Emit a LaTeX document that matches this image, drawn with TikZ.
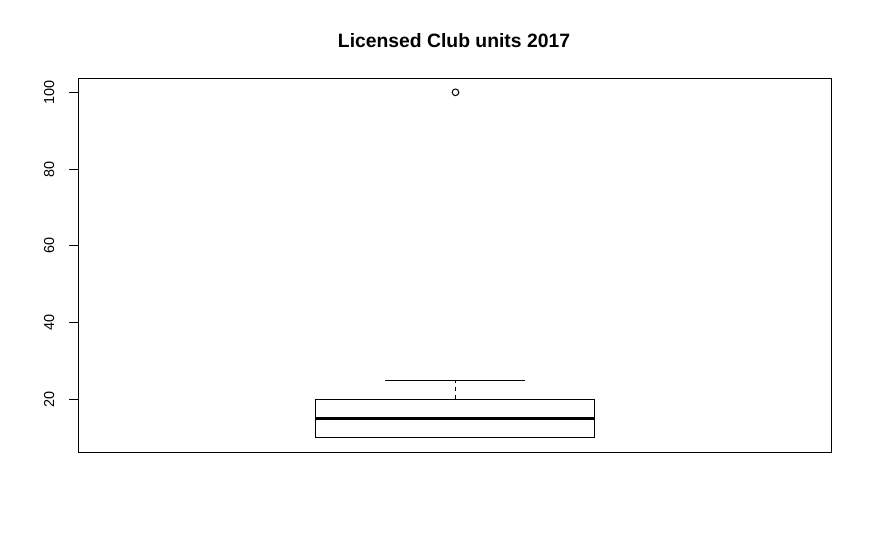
\documentclass[tikz,border=0pt]{standalone}
\usepackage{fontspec}
\setmainfont{Liberation Sans}
\usetikzlibrary{positioning}
\begin{document}
\begin{tikzpicture}[x=0.75pt, y=-0.75pt, line width=0.75pt, line cap=butt]
	\useasboundingbox (0,0) rectangle (872,550);
	
	\node[anchor=base, font=\fontsize{14.5}{17}\selectfont\bfseries] (title) at (454,47.5) {Licensed Club units 2017};
	
	% plot frame
	\coordinate (frameNW) at (78,78.3);
	\coordinate (frameSE) at (831,452);
	\draw (frameNW) rectangle (frameSE);
	
	\begin{scope}[yshift=-357.04pt, x=0.75pt, y=2.878pt]
		% data values
		\def\Qlo{10}   % lower hinge
		\def\Med{15}   % median
		\def\Qhi{20}   % upper hinge
		\def\Whi{25}   % upper whisker
		\def\Out{100}  % outlier
		
		% --- y axis ---
		\foreach \v in {20,40,...,100}{
			\coordinate (tick\v) at (78,\v);
			\draw (tick\v) -- ++(-9,0);
			\node[rotate=90, anchor=base, font=\fontsize{10.8}{13}\selectfont] (lab\v) at (54,\v) {\v};
		}
		
		% --- box ---
		\coordinate (boxSW) at (315.3,\Qlo);
		\coordinate (boxNE) at (594.3,\Qhi);
		\draw (boxSW) rectangle (boxNE);
		\draw[line width=2.25pt] (315.3,\Med) -- (594.3,\Med);
		
		% --- whisker ---
		\coordinate (whiskBase) at (455.5,\Qhi);
		\coordinate (whiskTop) at (455.5,\Whi);
		\draw[dash pattern=on 3pt off 3pt] (whiskBase) -- (whiskTop);
		\draw (385.3,\Whi) -- (525,\Whi);
		
		% --- outlier ---
		\coordinate (outlier) at (455.5,\Out);
		\draw (outlier) circle[radius=2.5pt];
	\end{scope}
\end{tikzpicture}
\end{document}
